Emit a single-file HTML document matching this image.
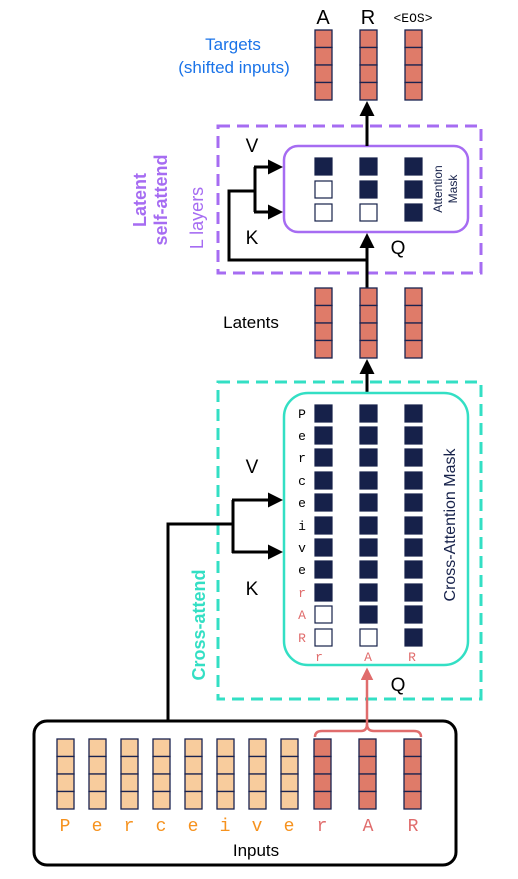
<!DOCTYPE html>
<html><head><style>body{margin:0;background:#fff}svg{display:block}text{font-family:"Liberation Sans",sans-serif}text.m,.m text{font-family:"Liberation Mono",monospace}</style></head><body>
<svg width="518" height="879" viewBox="0 0 518 879" xmlns="http://www.w3.org/2000/svg">
<defs>
<marker id="a" markerWidth="5" markerHeight="5" refX="4" refY="2.5" orient="auto" markerUnits="strokeWidth"><path d="M0,0L5,2.5L0,5z" fill="#000"/></marker>
<marker id="r" markerWidth="5" markerHeight="5" refX="4" refY="2.5" orient="auto" markerUnits="strokeWidth"><path d="M0,0L5,2.5L0,5z" fill="#e06c6c"/></marker>
<g id="col"><rect width="17" height="17.5" stroke="#1a2350" stroke-width="1.3"/><rect y="17.5" width="17" height="17.5" stroke="#1a2350" stroke-width="1.3"/><rect y="35" width="17" height="17.5" stroke="#1a2350" stroke-width="1.3"/><rect y="52.5" width="17" height="17.5" stroke="#1a2350" stroke-width="1.3"/></g>
</defs>
<!-- targets -->
<g font-size="20" text-anchor="middle"><text x="323" y="24">A</text><text x="368" y="24">R</text></g>
<text class="m" x="413" y="22" font-size="13" text-anchor="middle">&lt;EOS&gt;</text>
<text x="233" y="50" font-size="17" fill="#1a73e8" text-anchor="middle">Targets</text>
<text x="234" y="73" font-size="17" fill="#1a73e8" text-anchor="middle">(shifted inputs)</text>
<g fill="#df7b69"><use href="#col" x="315" y="30"/><use href="#col" x="360" y="30"/><use href="#col" x="405" y="30"/></g>
<!-- latent box -->
<rect x="218" y="126" width="263" height="147" fill="none" stroke="#a66cf2" stroke-width="3" stroke-dasharray="12,7"/>
<rect x="284" y="146" width="184" height="86" rx="14" fill="#fff" stroke="#a66cf2" stroke-width="2.5"/>
<g fill="#16214a" stroke="#16214a" stroke-width="1.2">
<rect x="315" y="158" width="17" height="17"/><rect x="360" y="158" width="17" height="17"/><rect x="405" y="158" width="17" height="17"/>
<rect x="315" y="181" width="17" height="17" fill="#fff"/><rect x="360" y="181" width="17" height="17"/><rect x="405" y="181" width="17" height="17"/>
<rect x="315" y="204" width="17" height="17" fill="#fff"/><rect x="360" y="204" width="17" height="17" fill="#fff"/><rect x="405" y="204" width="17" height="17"/>
</g>
<text transform="translate(442,189) rotate(-90)" font-size="12" fill="#16214a" text-anchor="middle">Attention</text>
<text transform="translate(457,189) rotate(-90)" font-size="12" fill="#16214a" text-anchor="middle">Mask</text>
<g stroke="#000" stroke-width="3" fill="none">
<path d="M367,290V236" marker-end="url(#a)"/>
<path d="M367,146V104" marker-end="url(#a)"/>
<path d="M367,260H229V191H255"/>
<path d="M255,167V212"/>
<path d="M254,167H280" marker-end="url(#a)"/>
<path d="M254,212H280" marker-end="url(#a)"/>
</g>
<text x="252" y="152" font-size="19" text-anchor="middle">V</text>
<text x="252" y="244" font-size="19" text-anchor="middle">K</text>
<text x="398" y="254" font-size="19" text-anchor="middle">Q</text>
<text transform="translate(146,200) rotate(-90)" font-size="18" font-weight="bold" fill="#a66cf2" text-anchor="middle">Latent</text>
<text transform="translate(167,200) rotate(-90)" font-size="18" font-weight="bold" fill="#a66cf2" text-anchor="middle">self-attend</text>
<text transform="translate(203,218) rotate(-90)" font-size="18" fill="#a66cf2" text-anchor="middle">L layers</text>
<!-- latents -->
<text x="251" y="328" font-size="17" text-anchor="middle">Latents</text>
<g fill="#df7b69"><use href="#col" x="315" y="288"/><use href="#col" x="360" y="288"/><use href="#col" x="405" y="288"/></g>
<path d="M367,393V362" stroke="#000" stroke-width="3" marker-end="url(#a)"/>
<!-- cross attend -->
<rect x="218" y="382" width="263" height="317" fill="none" stroke="#33dfc4" stroke-width="3" stroke-dasharray="12,7"/>
<rect x="284" y="393" width="184" height="272" rx="24" fill="#fff" stroke="#33dfc4" stroke-width="2.5"/>
<g fill="#16214a" stroke="#16214a" stroke-width="1.2">
<rect x="315" y="405" width="17" height="17"/><rect x="315" y="427" width="17" height="17"/><rect x="315" y="449" width="17" height="17"/><rect x="315" y="472" width="17" height="17"/><rect x="315" y="494" width="17" height="17"/><rect x="315" y="517" width="17" height="17"/><rect x="315" y="539" width="17" height="17"/><rect x="315" y="561" width="17" height="17"/><rect x="315" y="584" width="17" height="17"/><rect x="315" y="606" width="17" height="17" fill="#fff"/><rect x="315" y="629" width="17" height="17" fill="#fff"/>
<rect x="360" y="405" width="17" height="17"/><rect x="360" y="427" width="17" height="17"/><rect x="360" y="449" width="17" height="17"/><rect x="360" y="472" width="17" height="17"/><rect x="360" y="494" width="17" height="17"/><rect x="360" y="517" width="17" height="17"/><rect x="360" y="539" width="17" height="17"/><rect x="360" y="561" width="17" height="17"/><rect x="360" y="584" width="17" height="17"/><rect x="360" y="606" width="17" height="17"/><rect x="360" y="629" width="17" height="17" fill="#fff"/>
<rect x="405" y="405" width="17" height="17"/><rect x="405" y="427" width="17" height="17"/><rect x="405" y="449" width="17" height="17"/><rect x="405" y="472" width="17" height="17"/><rect x="405" y="494" width="17" height="17"/><rect x="405" y="517" width="17" height="17"/><rect x="405" y="539" width="17" height="17"/><rect x="405" y="561" width="17" height="17"/><rect x="405" y="584" width="17" height="17"/><rect x="405" y="606" width="17" height="17"/><rect x="405" y="629" width="17" height="17"/>
</g>
<g class="m" font-size="13" text-anchor="middle">
<text x="302" y="418">P</text><text x="302" y="440">e</text><text x="302" y="462">r</text><text x="302" y="485">c</text><text x="302" y="507">e</text><text x="302" y="530">i</text><text x="302" y="552">v</text><text x="302" y="574">e</text>
<g fill="#e06c6c"><text x="302" y="597">r</text><text x="302" y="619">A</text><text x="302" y="642">R</text><text x="319" y="661">r</text><text x="368" y="661">A</text><text x="412" y="661">R</text></g>
</g>
<text transform="translate(455,525) rotate(-90)" font-size="16" fill="#16214a" text-anchor="middle">Cross-Attention Mask</text>
<text transform="translate(205,625) rotate(-90)" font-size="18" font-weight="bold" fill="#33dfc4" text-anchor="middle">Cross-attend</text>
<g stroke="#000" stroke-width="3" fill="none">
<path d="M168,720V524H233"/>
<path d="M233,500V553"/>
<path d="M232,500H280" marker-end="url(#a)"/>
<path d="M232,552H280" marker-end="url(#a)"/>
</g>
<text x="252" y="473" font-size="19" text-anchor="middle">V</text>
<text x="252" y="595" font-size="19" text-anchor="middle">K</text>
<text x="398" y="691" font-size="19" text-anchor="middle">Q</text>
<!-- inputs -->
<rect x="34" y="721" width="422" height="144" rx="13" fill="#fff" stroke="#000" stroke-width="3"/>
<g fill="#f8cc9d"><use href="#col" x="57" y="739"/><use href="#col" x="89" y="739"/><use href="#col" x="121" y="739"/><use href="#col" x="153" y="739"/><use href="#col" x="185" y="739"/><use href="#col" x="217" y="739"/><use href="#col" x="249" y="739"/><use href="#col" x="281" y="739"/></g>
<g fill="#df7b69"><use href="#col" x="314" y="739"/><use href="#col" x="359" y="739"/><use href="#col" x="404" y="739"/></g>
<path d="M315,737Q315,731 322,731H361Q367,731 367,724V670" stroke="#e06c6c" stroke-width="2.5" fill="none" marker-end="url(#r)"/>
<path d="M367,724Q367,731 374,731H414Q421,731 421,737" stroke="#e06c6c" stroke-width="2.5" fill="none"/>
<g class="m" font-size="18" text-anchor="middle" fill="#f6921e">
<text x="65" y="831">P</text><text x="97" y="831">e</text><text x="129" y="831">r</text><text x="161" y="831">c</text><text x="193" y="831">e</text><text x="225" y="831">i</text><text x="257" y="831">v</text><text x="289" y="831">e</text>
<g fill="#e06c6c"><text x="322" y="831">r</text><text x="368" y="831">A</text><text x="413" y="831">R</text></g>
</g>
<text x="256" y="856" font-size="17" text-anchor="middle">Inputs</text>
</svg>
</body></html>
